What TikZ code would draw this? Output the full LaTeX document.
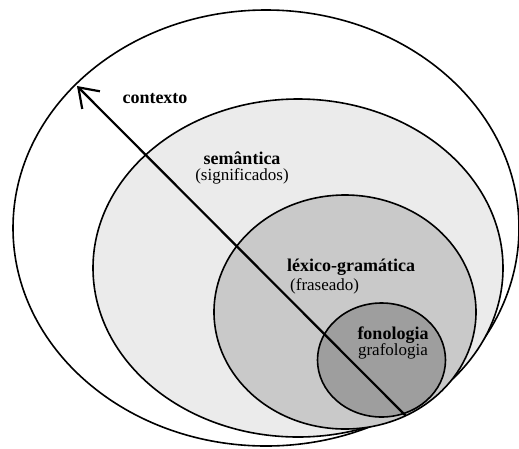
\documentclass[tikz,border=0pt]{standalone}
\usepackage{fontspec}
\setmainfont{Liberation Serif}
\usetikzlibrary{arrows.meta}
\definecolor{semfill}{gray}{0.92}
\definecolor{lexfill}{gray}{0.79}
\definecolor{fonfill}{gray}{0.62}
\tikzset{
  stratum/.style={draw=black, line width=1.6pt},
  lbl/.style={inner sep=0pt, font=\fontsize{17}{16}\selectfont},
  axis/.style={line width=2.2pt, line cap=round,
    -{Straight Barb[length=18pt, width=25pt, line width=2.2pt]}}
}
\newcommand{\strat}[1]{{\fontsize{18}{16}\selectfont\bfseries #1}}
\begin{document}
\begin{tikzpicture}[x=1pt, y=-1pt]
  \useasboundingbox (0,0) rectangle (519,448);
  % nested strata
  \draw[stratum, fill=white]   (266,228) ellipse [x radius=253, y radius=218];
  \draw[stratum, fill=semfill] (298,268) ellipse [x radius=205, y radius=169];
  \draw[stratum, fill=lexfill] (345,312) ellipse [x radius=131, y radius=117];
  \draw[stratum, fill=fonfill] (381.5,360) ellipse [x radius=64, y radius=57];
  % axis from the common tangent point outwards
  \coordinate (base) at (405,415);
  \coordinate (rim) at (77,86);
  \draw[axis] (base) -- (rim);
  % labels
  \node[lbl] (ctx) at (155,99) {\strat{contexto}};
  \node[lbl, align=center] (sem) at (242,168)
    {\strat{semântica}\\(significados)};
  \node[lbl, align=left, anchor=north west] (lex) at (287,259)
    {\strat{léxico-gramática}\\[3pt]\hspace*{3pt}(fraseado)};
  \node[lbl, align=center] (fon) at (393,343)
    {\strat{fonologia}\\grafologia};
\end{tikzpicture}
\end{document}
